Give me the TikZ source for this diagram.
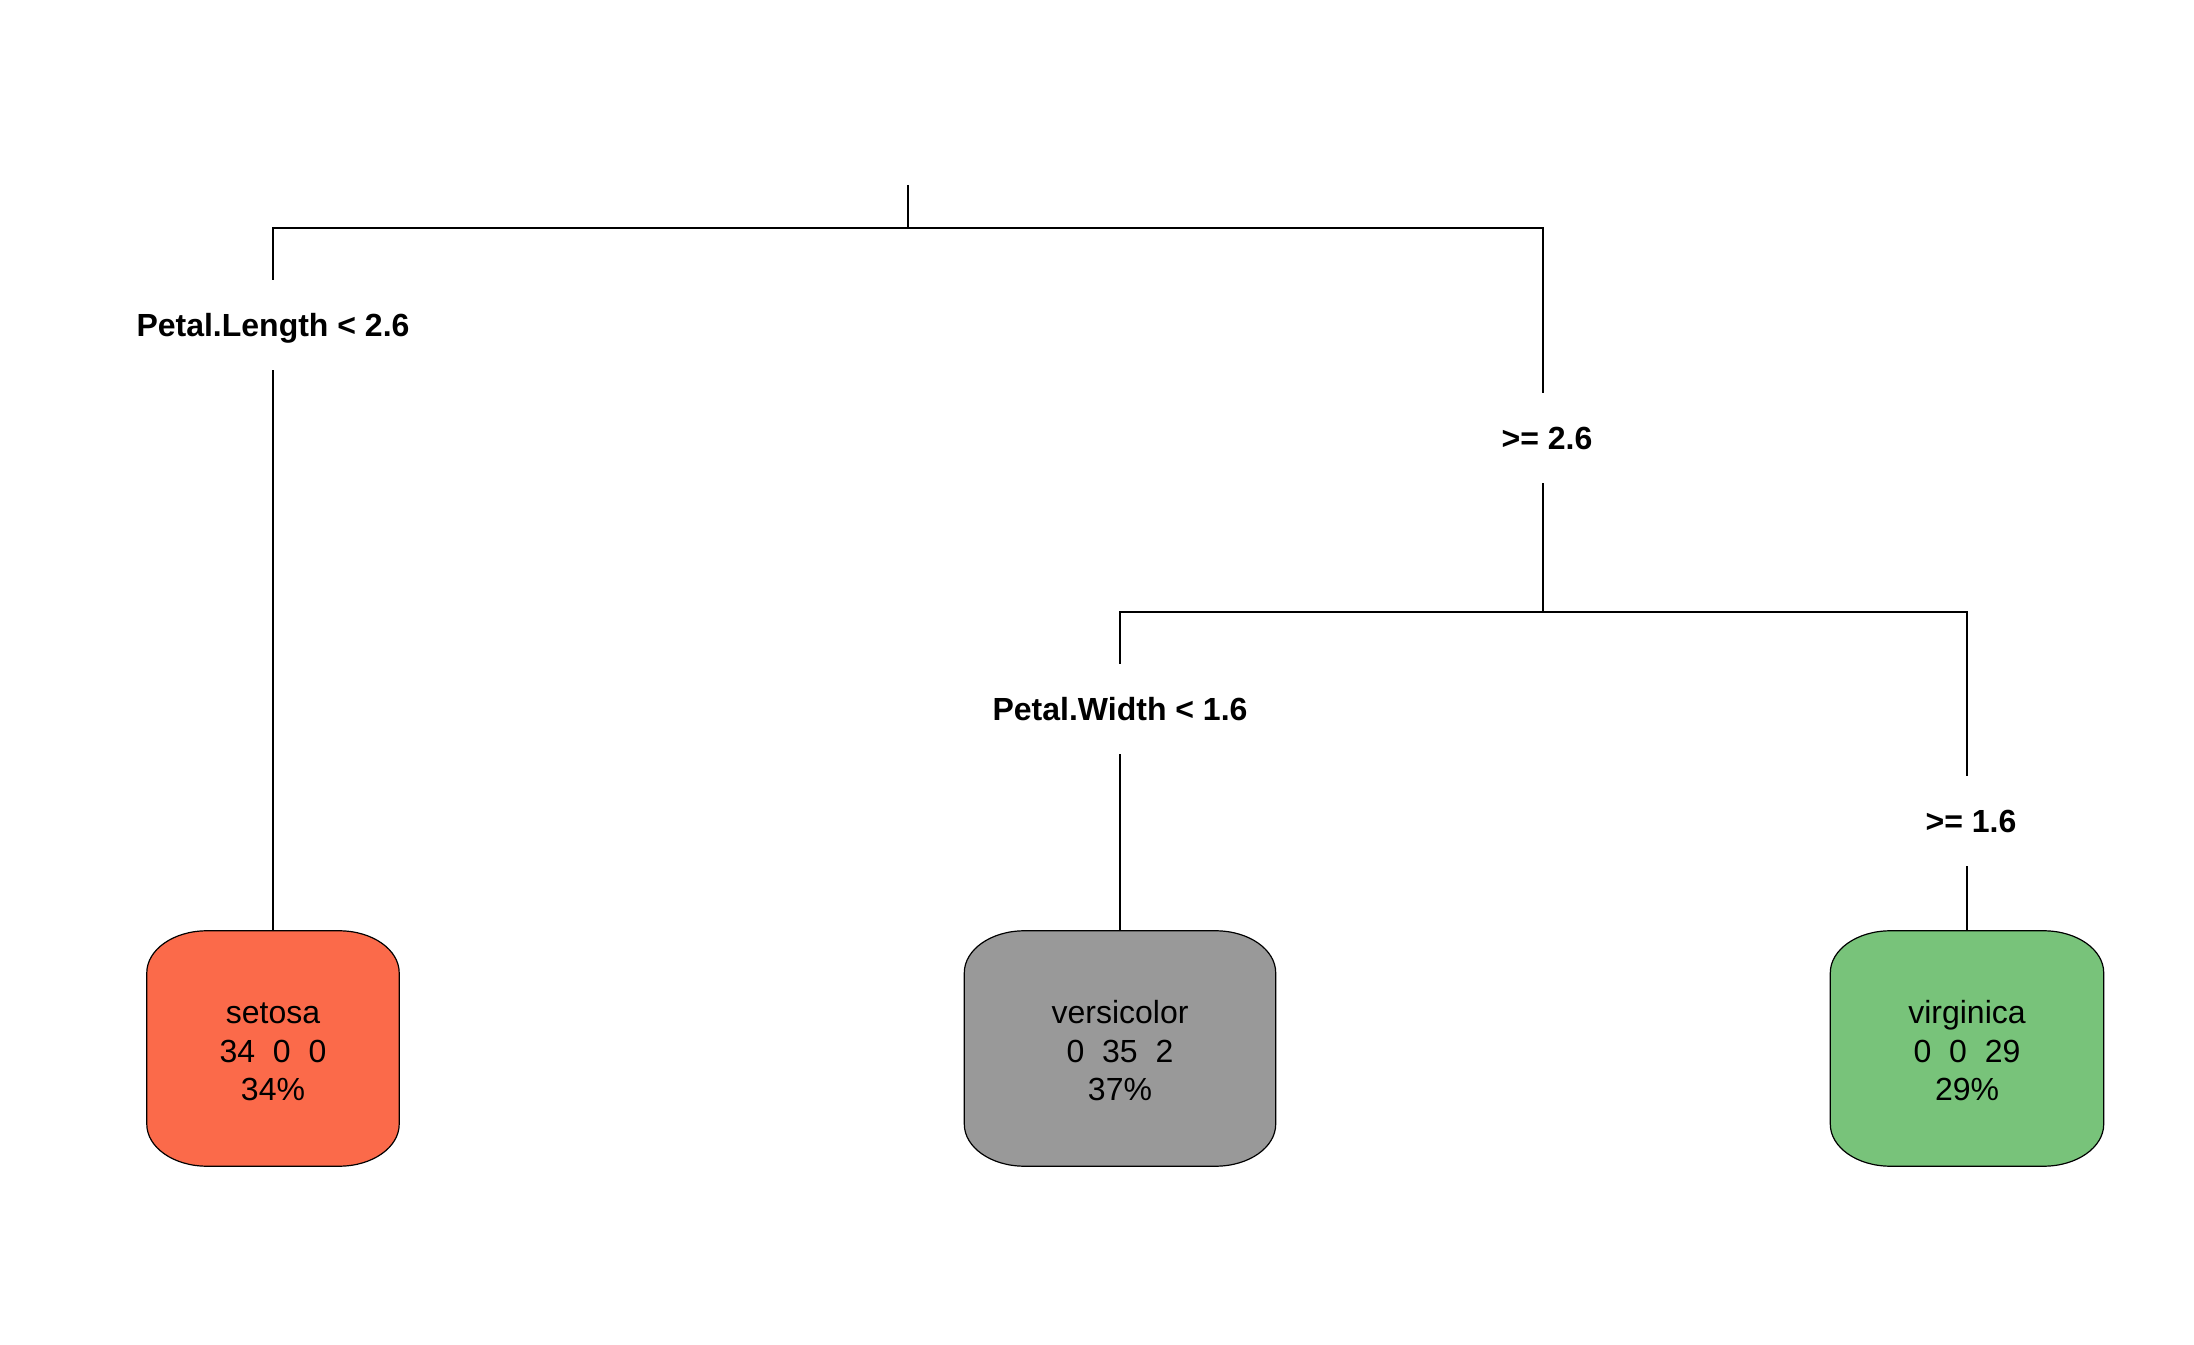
\documentclass[tikz,border=0pt]{standalone}
\usepackage{fontspec}
\setmainfont{Liberation Sans}
\usetikzlibrary{backgrounds}
\definecolor{setosacol}{HTML}{FB6A4A}
\definecolor{versicol}{HTML}{999999}
\definecolor{virgcol}{HTML}{78C37A}
\tikzset{
  x=1pt, y=1pt,
  edge/.style={line width=1.2pt, black},
  cond/.style={font=\fontsize{32}{38}\selectfont\bfseries, text height=23pt, text depth=0pt, inner xsep=4pt, inner ysep=33.5pt, anchor=center},
  leaf/.style={font=\fontsize{32}{38.5}\selectfont, align=center, inner sep=0pt, minimum height=235pt},
  leafline/.style={line width=1.2pt, draw=black},
}
\newcommand\leafshape[2]{%
  \begin{pgfonlayer}{background}
  \draw[leafline, fill=#2] ([xshift=60pt]#1.north west) -- ([xshift=-60pt]#1.north east)
    arc[start angle=90, end angle=0, x radius=60, y radius=42]
    -- ([yshift=42pt]#1.south east)
    arc[start angle=0, end angle=-90, x radius=60, y radius=42]
    -- ([xshift=60pt]#1.south west)
    arc[start angle=270, end angle=180, x radius=60, y radius=42]
    -- ([yshift=-42pt]#1.north west)
    arc[start angle=180, end angle=90, x radius=60, y radius=42]
    -- cycle;
  \end{pgfonlayer}}
\begin{document}
\begin{tikzpicture}
\useasboundingbox (0,0) rectangle (2194,1344);
% junction points
\coordinate (top) at (908,1159);
\coordinate (j0) at (908,1116);
\coordinate (j1) at (1543,732);
% split labels
\node[cond] (L1) at (273,1019) {Petal.Length < 2.6};
\node[cond] (R1) at (1543,906) {\hspace*{8pt}>= 2.6};
\node[cond] (L2) at (1120,635) {Petal.Width < 1.6};
\node[cond] (R2) at (1967,523) {\hspace*{8pt}>= 1.6};
% leaves
\node[leaf, minimum width=252pt] (setosa) at (273,295.5) {\rule{0pt}{36pt}setosa\\34\ \ 0\ \ 0\\34\%\rule[-8pt]{0pt}{8pt}};
\node[leaf, minimum width=311pt] (versicolor) at (1120,295.5) {\rule{0pt}{36pt}versicolor\\0\ \ 35\ \ 2\\37\%\rule[-8pt]{0pt}{8pt}};
\node[leaf, minimum width=273pt] (virginica) at (1967,295.5) {\rule{0pt}{36pt}virginica\\0\ \ 0\ \ 29\\29\%\rule[-8pt]{0pt}{8pt}};
\leafshape{setosa}{setosacol}
\leafshape{versicolor}{versicol}
\leafshape{virginica}{virgcol}
% connectors
\draw[edge] (top) -- (j0);
\draw[edge] (L1.north) |- (j0) -| (R1.north);
\draw[edge] (L1.south) -- (setosa.north);
\draw[edge] (R1.south) -- (j1);
\draw[edge] (L2.north) |- (j1) -| (R2.north);
\draw[edge] (L2.south) -- (versicolor.north);
\draw[edge] (R2.south) -- (virginica.north);
\end{tikzpicture}
\end{document}
